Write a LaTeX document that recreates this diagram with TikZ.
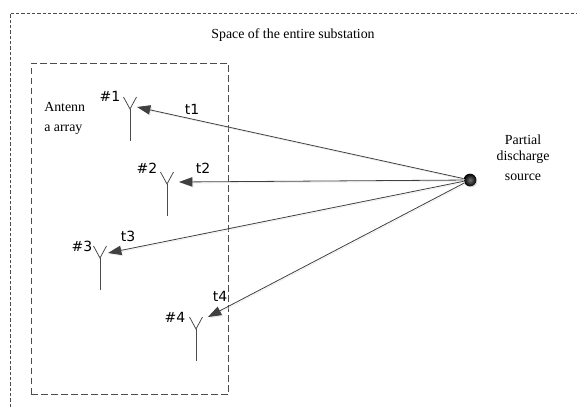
\documentclass[tikz,border=0pt]{standalone}
\usepackage{fontspec}
\setmainfont{Liberation Serif}
\newfontfamily\labelfont{DejaVu Sans}
\usetikzlibrary{arrows.meta,positioning}

\begin{document}
\begin{tikzpicture}[
  x=0.75pt, y=-0.75pt,
  >={Stealth[length=10pt,width=7pt,inset=0pt]}, font=\fontsize{10.4}{12}\selectfont,
  tag/.style={font=\fontsize{10.5}{12}\selectfont\labelfont,inner sep=0pt},
  caption/.style={align=center,inner sep=0pt},
  ant/.style={draw=black!70,line width=0.6pt},
  ar/.style={->,draw=black!75,line width=0.6pt,
    preaction={draw=black!9,transform canvas={shift={(0.9pt,-0.9pt)}}}},
  frame/.style={draw=black!70,line width=0.5pt},
  ball/.style={circle,minimum size=9.5pt,inner sep=0pt,shading=radial,inner color=black!55,outer color=black}
]
\useasboundingbox (0,0) rectangle (577,407);
% outer space and antenna array
\coordinate (ol) at (10,407);
\coordinate (ot) at (10,13);
\coordinate (or) at (577,13);
\draw[frame,dash pattern=on 2.5pt off 1.5pt] (ol) -- (ot) -- (or);
\node[frame,dash pattern=on 5pt off 2.5pt,minimum width=148pt,minimum height=248.25pt,anchor=north west,inner sep=0pt] (array) at (31,63) {};
\node[caption,anchor=center] (space) at (293,35) {Space of the entire substation};
\node[caption,align=left,anchor=north west,font=\fontsize{10.4}{15}\selectfont] (arrtext) at (44,102) {Antenn\\a array};
% source
\node[circle,minimum size=9.5pt,inner sep=0pt,fill=black!15] (srcshadow) at (471,181) {};
\node[ball] (src) at (470,180) {};
\node[caption,anchor=north,font=\fontsize{10.4}{12}\selectfont] (srctext) at (523,135) {Partial\\discharge\\[3pt]source};
% antennas
\foreach \i/\x/\y in {1/130/109,2/167/184,3/100/258,4/196/329} {
  \coordinate (j\i) at (\x,\y);
  \coordinate (a\i) at (\x-6.5,\y-12);
  \coordinate (b\i) at (\x+6.5,\y-12);
  \coordinate (f\i) at (\x,\y+32);
  \draw[ant] (a\i) -- (j\i) -- (b\i);
  \draw[ant] (j\i) -- (f\i);
}
% tips of arrows
\coordinate (p1) at (137,107);
\coordinate (p2) at (179,182);
\coordinate (p3) at (108,253);
\coordinate (p4) at (208,317);
\foreach \i in {1,...,4}
  \draw[ar] (src) -- (p\i);
% labels
\node[tag] (n1) at (110,96) {\#1};
\node[tag] (n2) at (147,168) {\#2};
\node[tag] (n3) at (82,246) {\#3};
\node[tag] (n4) at (175,317) {\#4};
\node[tag] (t1) at (192,109) {t1};
\node[tag] (t2) at (203,168) {t2};
\node[tag] (t3) at (128,236) {t3};
\node[tag] (t4) at (220,296) {t4};
\end{tikzpicture}
\end{document}
